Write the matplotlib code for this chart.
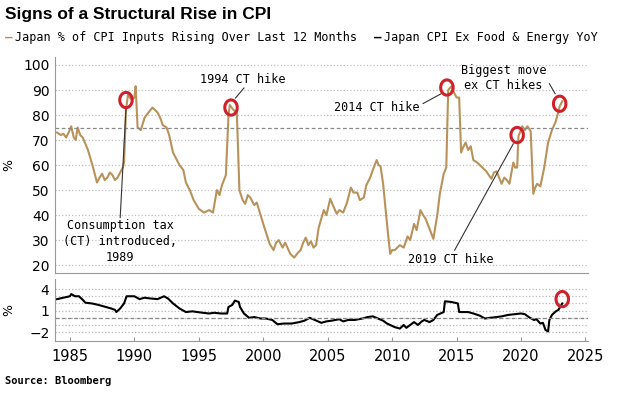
import matplotlib.pyplot as plt
from matplotlib.path import Path
import numpy as np

# Japan % of CPI inputs rising over last 12 months
top_years = [1984.0, 1984.3, 1984.5, 1984.7, 1984.9, 1985.1, 1985.3, 1985.45, 1985.6, 1985.8, 1986.0,
             1986.4, 1986.8, 1987.1, 1987.3, 1987.5, 1987.7, 1987.9, 1988.1, 1988.3, 1988.5, 1988.7,
             1989.1, 1989.2, 1989.35, 1989.5, 1989.8, 1990.0, 1990.1, 1990.25, 1990.5, 1990.8,
             1991.1, 1991.4, 1991.6, 1991.8, 1992.0, 1992.2, 1992.5, 1992.7, 1993.0, 1993.5, 1993.8,
             1994.0, 1994.3, 1994.6, 1995.0, 1995.4, 1995.8, 1996.1, 1996.4, 1996.6, 1996.8, 1997.1,
             1997.3, 1997.4, 1997.7, 1997.95, 1998.15, 1998.4, 1998.6, 1998.8, 1999.0, 1999.3, 1999.5,
             2000.0, 2000.5, 2000.8, 2001.0, 2001.2, 2001.5, 2001.7, 2002.1, 2002.4, 2002.7, 2002.9,
             2003.1, 2003.3, 2003.5, 2003.7, 2003.9, 2004.1, 2004.3, 2004.7, 2004.9, 2005.2, 2005.4,
             2005.7, 2005.9, 2006.2, 2006.5, 2006.8, 2007.0, 2007.3, 2007.5, 2007.8, 2008.0, 2008.3,
             2008.5, 2008.8, 2008.95, 2009.1, 2009.3, 2009.65, 2009.85, 2010.0, 2010.2, 2010.4,
             2010.6, 2010.9, 2011.2, 2011.4, 2011.7, 2011.9, 2012.2, 2012.4, 2012.6, 2012.9, 2013.2,
             2013.5, 2013.7, 2014.0, 2014.2, 2014.35, 2014.6, 2014.8, 2015.0, 2015.2, 2015.35,
             2015.5, 2015.7, 2015.9, 2016.1, 2016.3, 2016.6, 2016.8, 2017.0, 2017.3, 2017.5, 2017.7,
             2017.9, 2018.1, 2018.3, 2018.5, 2018.7, 2018.9, 2019.1, 2019.4, 2019.55, 2019.7, 2019.8,
             2020.1, 2020.3, 2020.5, 2020.75, 2020.95, 2021.1, 2021.25, 2021.5, 2021.8, 2022.1,
             2022.4, 2022.7, 2023.0, 2023.2]
top_vals = [73, 72, 72.5, 71, 73, 75.5, 71, 70, 75, 72, 71,
            66, 59, 53, 55, 56.5, 54, 55, 57, 56, 54, 55,
            59, 61, 82, 88, 86, 87, 91.5, 75, 74, 79,
            81, 83, 82, 81, 79, 76, 75, 72, 65, 60, 58,
            53, 50, 46, 42.5, 41, 42, 41, 50, 48, 52, 56,
            79.5, 84, 82, 81, 50, 46, 44.5, 48, 47, 44, 45,
            36.5, 28.5, 26, 29, 30, 27, 29, 24.5, 23, 25, 26,
            29, 31, 28, 29.5, 27, 28, 35, 42, 40, 46.5, 44,
            40.5, 42, 41, 45, 51, 49, 49, 46, 47, 52, 55,
            58, 62, 60, 59.5, 52.5, 34, 24.5, 26, 26, 27,
            28, 27, 31.5, 30, 36.5, 34, 42, 40, 38.5, 34.5, 30.5,
            40, 48.5, 56.5, 59, 90, 91.5, 89, 87, 87, 65,
            67, 69, 66, 67.5, 62, 61, 60, 59, 57.5, 56, 54.5,
            57, 57.5, 55, 52.5, 55, 54, 52.5, 61, 59, 59, 71.5,
            75.5, 74, 75.5, 73.5, 48.5, 51, 52.5, 51.5, 59, 69,
            74, 77.5, 83.5, 85.5]

# Japan CPI ex food & energy YoY
bot_years = [1984.0, 1984.5, 1985.0, 1985.1, 1985.4, 1985.7, 1986.0, 1986.2, 1986.7, 1987.2, 1987.8,
             1988.2, 1988.5, 1988.6, 1988.9, 1989.2, 1989.4, 1990.0, 1990.4, 1990.8, 1991.2, 1991.8,
             1992.3, 1992.6, 1993.0, 1993.5, 1994.0, 1994.5, 1994.9, 1995.3, 1995.8, 1996.2, 1996.7,
             1997.2, 1997.3, 1997.6, 1997.8, 1998.1, 1998.2, 1998.5, 1998.9, 1999.3, 1999.8, 2000.2,
             2000.7, 2001.1, 2001.6, 2002.2, 2002.8, 2003.2, 2003.6, 2004.0, 2004.5, 2004.9, 2005.3,
             2005.9, 2006.2, 2006.6, 2007.1, 2007.7, 2008.1, 2008.5, 2008.9, 2009.3, 2009.6, 2010.2,
             2010.6, 2010.9, 2011.1, 2011.4, 2011.7, 2012.0, 2012.3, 2012.5, 2012.9, 2013.2, 2013.5,
             2014.0, 2014.1, 2014.6, 2015.1, 2015.2, 2015.5, 2015.9, 2016.3, 2016.8, 2017.2, 2017.6,
             2018.1, 2018.5, 2019.0, 2019.5, 2020.0, 2020.3, 2020.6, 2021.0, 2021.2, 2021.5, 2021.7,
             2021.9, 2022.1, 2022.2, 2022.4, 2022.7, 2022.9, 2023.2]
bot_vals = [2.6, 2.8, 3.0, 3.3, 3.0, 3.0, 2.5, 2.1, 2.0, 1.8, 1.5,
            1.3, 1.1, 0.8, 1.3, 2.0, 3.0, 3.0, 2.6, 2.8, 2.7, 2.6,
            3.0, 2.7, 2.0, 1.3, 0.8, 0.9, 0.8, 0.7, 0.6, 0.7, 0.6,
            0.6, 1.5, 1.8, 2.4, 2.2, 1.5, 0.6, 0.0, 0.1, -0.1, -0.1,
            -0.3, -0.9, -0.8, -0.8, -0.6, -0.4, 0.0, -0.3, -0.7, -0.5, -0.4,
            -0.2, -0.5, -0.3, -0.3, -0.1, 0.1, 0.2, -0.1, -0.4, -0.8, -1.3,
            -1.5, -1.0, -1.4, -1.0, -0.6, -1.0, -0.5, -0.3, -0.6, -0.3, 0.4,
            0.8, 2.3, 2.2, 2.0, 0.8, 0.8, 0.8, 0.6, 0.3, -0.1, 0.0,
            0.1, 0.2, 0.4, 0.5, 0.6, 0.5, 0.1, -0.3, -0.2, -0.8, -0.7,
            -1.7, -1.9, -0.3, 0.4, 0.9, 1.1, 2.0]

# circled points
top_circles_x = [1989.35, 1997.5, 2014.25, 2019.7, 2023.0]
top_circles_y = [86, 83, 91, 72, 84.5]
bot_circle_x = [2023.2]
bot_circle_y = [2.6]

gold = '#b8925a'
red = '#d0202a'
mono = 'DejaVu Sans Mono'

# slightly tall ellipse marker
t = np.linspace(0, 2 * np.pi, 60)
ellipse = Path(np.column_stack([0.82 * np.cos(t), np.sin(t)]))

fig = plt.figure(figsize=(6.19, 3.93), dpi=100)
ax1 = fig.add_axes([0.089, 0.305, 0.861, 0.55])
ax2 = fig.add_axes([0.089, 0.132, 0.861, 0.158], sharex=ax1)

ax1.plot(top_years, top_vals, color=gold, lw=1.5)
ax2.plot(bot_years, bot_vals, color='black', lw=1.5)

for ax in (ax1, ax2):
    for s in ('top', 'right'):
        ax.spines[s].set_visible(False)
    ax.spines['left'].set_color('#999999')
    ax.spines['bottom'].set_color('#999999')
    ax.tick_params(axis='y', length=0, labelsize=10, pad=4)
    ax.set_axisbelow(True)

ax1.set_ylim(16.8, 103.2)
ax1.set_yticks(range(20, 101, 10))
ax1.grid(axis='y', color='#c0c0c0', ls=':', lw=0.9)
ax1.axhline(75, color='#888888', ls='--', lw=0.9, dashes=(3, 2))
ax1.tick_params(axis='x', labelbottom=False, length=0)
ax1.set_ylabel('%', fontsize=9)

ax2.set_xlim(1983.85, 2025.2)
ax2.set_xticks(range(1985, 2026, 5))
ax2.tick_params(axis='x', direction='in', length=3, labelsize=10.5, color='#999999', pad=6)
ax2.set_ylim(-3.25, 5.4)
ax2.set_yticks([4, 1, -2])
ax2.set_yticks([3, 2, 0, -1], minor=True)
ax2.tick_params(axis='y', which='minor', length=0)
ax2.grid(axis='y', which='both', color='#b8b8b8', ls=':', lw=0.9)
ax2.axhline(0, color='#888888', ls='--', lw=0.9, dashes=(3, 2))
ax2.set_ylabel('%', fontsize=9)
ax1.yaxis.set_label_coords(-0.075, 0.5)
ax2.yaxis.set_label_coords(-0.075, 0.5)

ax1.scatter(top_circles_x, top_circles_y, s=120, marker=ellipse, facecolors='none',
            edgecolors=red, linewidths=2.2, zorder=5)
ax2.scatter(bot_circle_x, bot_circle_y, s=120, marker=ellipse, facecolors='none',
            edgecolors=red, linewidths=2.2, zorder=5)

ann = dict(fontsize=8.5, family=mono, ha='center', va='center')
lc = dict(color='#333333', lw=0.8)
ax1.text(1988.9, 29.5, 'Consumption tax\n(CT) introduced,\n1989', linespacing=1.3, **ann)
ax1.plot([1988.9, 1989.35], [39, 82.5], **lc)
ax1.text(1998.4, 94.4, '1994 CT hike', **ann)
ax1.plot([1998.5, 1997.85], [90.8, 86.8], **lc)
ax1.text(2008.8, 83.2, '2014 CT hike', **ann)
ax1.plot([2012.4, 2013.8], [84.6, 88.5], **lc)
ax1.text(2018.65, 94.8, 'Biggest move\nex CT hikes', linespacing=1.2, **ann)
ax1.plot([2022.2, 2022.65], [92.5, 88.5], **lc)
ax1.text(2014.55, 22.4, '2019 CT hike', **ann)
ax1.plot([2014.85, 2019.4], [26, 68.5], **lc)

fig.text(0.008, 0.962, 'Signs of a Structural Rise in CPI', fontsize=12.5, fontweight='bold',
         family='Liberation Sans', va='center', ha='left')
fig.text(0.008, 0.905, '\u2014', color=gold, fontsize=9, family=mono, va='center', fontweight='bold')
fig.text(0.024, 0.905, 'Japan % of CPI Inputs Rising Over Last 12 Months', fontsize=8.5,
         family=mono, va='center')
fig.text(0.605, 0.905, '\u2014', color='black', fontsize=9, family=mono, va='center', fontweight='bold')
fig.text(0.621, 0.905, 'Japan CPI Ex Food & Energy YoY', fontsize=8.5, family=mono, va='center')
fig.text(0.008, 0.03, 'Source: Bloomberg', fontsize=7.5, family=mono, fontweight='bold', va='center')

fig.savefig('out.png', dpi=100)
